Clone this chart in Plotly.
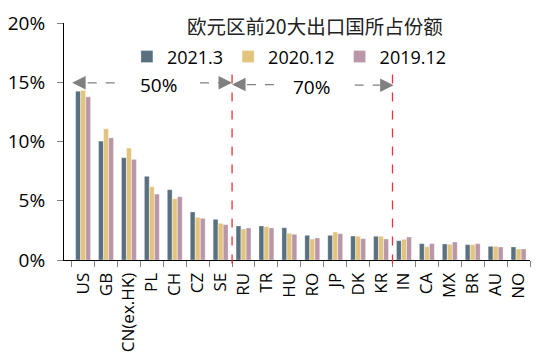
import plotly.graph_objects as go

categories = ["US", "GB", "CN(ex.HK)", "PL", "CH", "CZ", "SE", "RU", "TR", "HU",
              "RO", "JP", "DK", "KR", "IN", "CA", "MX", "BR", "AU", "NO"]
s2021_3 = [14.25, 10.03, 8.63, 7.06, 5.93, 4.05, 3.43, 2.87, 2.87, 2.72,
           2.08, 2.08, 2.02, 2.00, 1.63, 1.38, 1.35, 1.29, 1.15, 1.10]
s2020_12 = [14.30, 11.07, 9.44, 6.18, 5.17, 3.60, 3.09, 2.61, 2.81, 2.25,
            1.77, 2.36, 2.00, 2.00, 1.74, 1.12, 1.32, 1.29, 1.15, 0.93]
s2019_12 = [13.77, 10.31, 8.49, 5.56, 5.34, 3.51, 2.98, 2.70, 2.70, 2.17,
            1.86, 2.22, 1.80, 1.77, 1.94, 1.38, 1.52, 1.38, 1.10, 0.93]
series_names = ["2021.3", "2020.12", "2019.12"]
y_ticks = [0, 5, 10, 15, 20]
y_tick_labels = ["0%", "5%", "10%", "15%", "20%"]
title_text = "欧元区前20大出口国所占份额"
group_labels = ["50%", "70%"]
group_bounds = [6.5, 13.5]

colors = ["#587080", "#e2c47c", "#b996a8"]
FONT = "Open Sans, Noto Sans CJK SC, sans-serif"

fig = go.Figure()
for name, vals, c in zip(series_names, [s2021_3, s2020_12, s2019_12], colors):
    fig.add_trace(go.Bar(x=categories, y=vals, name=name,
                         marker=dict(color=c, line=dict(color="rgba(255,255,255,0.6)", width=0.5))))

# red dashed separators
for b in group_bounds:
    fig.add_shape(type="line", xref="x", yref="paper", x0=b, x1=b, y0=-0.015, y1=0.815,
                  line=dict(color="#e8333c", width=1.3, dash="dash"))

grey = "#808080"
# dashed arrow shafts
seg = [(0.2, 1.6, 14.95), (5.1, 6.0, 14.95), (7.15, 8.35, 14.8), (11.85, 12.95, 14.75)]
for x0, x1, yv in seg:
    fig.add_shape(type="line", xref="x", yref="y", x0=x0, x1=x1, y0=yv, y1=yv,
                  line=dict(color=grey, width=1.3, dash="dash"))

# arrowheads
heads = [(-0.48, 14.95, 14), (6.5, 14.95, -14), (6.5, 14.8, 14), (13.55, 14.75, -14)]
for hx, hy, axp in heads:
    fig.add_annotation(x=hx, y=hy, xref="x", yref="y", text="", showarrow=True,
                       arrowhead=2, arrowsize=1.8, arrowwidth=1.5, arrowcolor=grey,
                       ax=axp, ay=0)

# group labels
fig.add_annotation(x=3.3, y=14.75, xref="x", yref="y", text=group_labels[0], showarrow=False,
                   font=dict(family=FONT, size=19, color="#000000"))
fig.add_annotation(x=9.95, y=14.6, xref="x", yref="y", text=group_labels[1], showarrow=False,
                   font=dict(family=FONT, size=19, color="#000000"))

# title
fig.add_annotation(x=0.539, y=0.99, xref="paper", yref="paper", text=title_text, showarrow=False,
                   xanchor="center", yanchor="middle",
                   font=dict(family="Noto Sans CJK SC, sans-serif", size=19.5, color="#222222"))

fig.update_layout(
    width=538, height=361,
    margin=dict(l=64, r=8, t=23, b=101, autoexpand=False),
    paper_bgcolor="white", plot_bgcolor="white",
    barmode="group", bargap=0.34, bargroupgap=0.05,
    font=dict(family=FONT, size=19, color="#000000"),
    showlegend=True,
    legend=dict(orientation="h", x=0.135, y=0.857, xanchor="left", yanchor="middle",
                font=dict(family=FONT, size=18, color="#000000"),
                bgcolor="rgba(0,0,0,0)", itemwidth=30, tracegroupgap=0),
)
fig.update_yaxes(range=[0, 20], tickmode="array", tickvals=y_ticks, ticktext=y_tick_labels,
                 showgrid=False, zeroline=False, automargin=False,
                 showline=True, linecolor="#000000", linewidth=1,
                 ticks="outside", ticklen=6, tickcolor="#808080",
                 tickfont=dict(family=FONT, size=19), ticklabelstandoff=8)
fig.update_xaxes(type="category", showgrid=False, showline=True, linecolor="#000000", linewidth=1,
                 automargin=False,
                 ticks="outside", ticklen=6, tickcolor="#808080", tickson="boundaries",
                 tickangle=-90, tickfont=dict(family=FONT, size=17), ticklabelstandoff=5)

fig.write_html("out.html", config={"displayModeBar": False},
               post_script="document.body.style.margin='0';document.body.style.padding='0';"
                           "document.body.style.overflow='hidden';")
